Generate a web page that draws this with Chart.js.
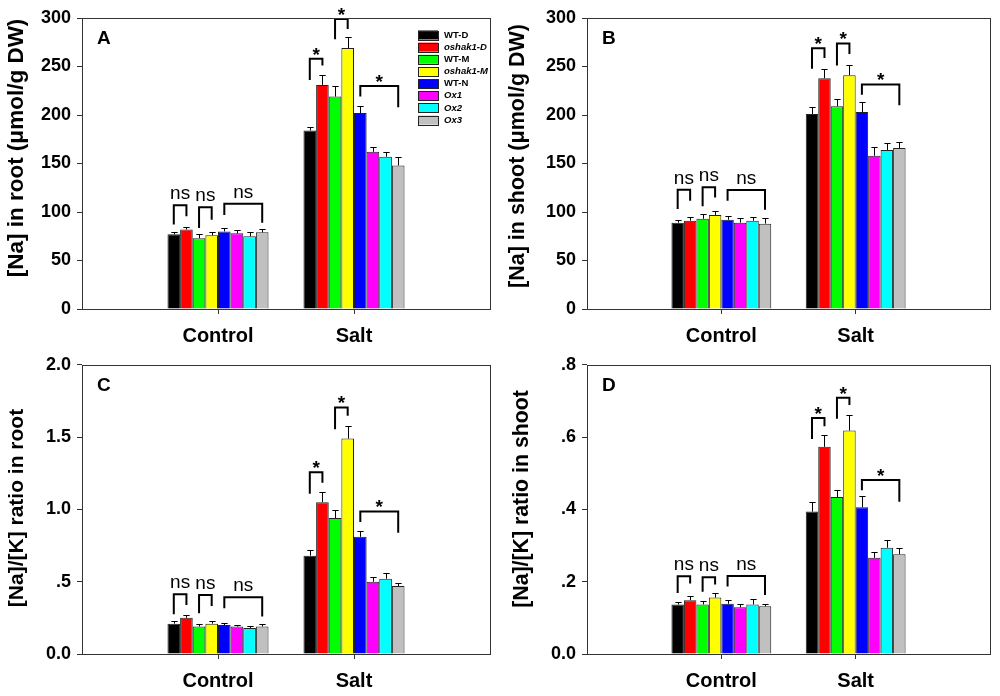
<!DOCTYPE html>
<html>
<head>
<meta charset="utf-8">
<script src="https://cdn.jsdelivr.net/npm/chart.js@4.4.0/dist/chart.umd.min.js"></script>
<style>
    body { margin: 0; background: #fff; }
    #wrap { position: relative; width: 1000px; height: 696px; }
    canvas { position: absolute; }
</style>
</head>
<body>
<div id="wrap">
    <canvas id="chartA" width="500" height="348" style="left:0;top:0"></canvas>
    <canvas id="chartB" width="500" height="348" style="left:500px;top:0"></canvas>
    <canvas id="chartC" width="500" height="348" style="left:0;top:348px"></canvas>
    <canvas id="chartD" width="500" height="348" style="left:500px;top:348px"></canvas>
</div>
<script>
// categories and genotypes
const categories = ['Control', 'Salt'];
const genotypes = ['WT-D', 'oshak1-D', 'WT-M', 'oshak1-M', 'WT-N', 'Ox1', 'Ox2', 'Ox3'];
const italicNames = [false, true, false, true, false, true, true, true];
const barColors = ['#000000', '#ff0000', '#00ff00', '#ffff00', '#0000ff', '#ff00ff', '#00ffff', '#c0c0c0'];

// A - [Na] in root
const rootNaControl = [77, 82, 73, 76, 80, 78, 75, 79];
const rootNaControlErr = [2, 3, 4, 3.5, 4, 3, 4, 3];
const rootNaSalt = [184, 231, 219, 269, 202, 162, 157, 148];
const rootNaSaltErr = [4, 10, 11, 11, 7, 4.5, 5, 8.5];
const naTicks = ['0', '50', '100', '150', '200', '250', '300'];
// brackets: [category, from bar, to bar, top, left leg end, right leg end, label]
const rootNaBrackets = [
    ['Control', 0, 1, 107, 87, 95.5, 'ns'],
    ['Control', 2, 3, 105, 83.5, 92, 'ns'],
    ['Control', 4, 7, 108.6, 97, 89, 'ns'],
    ['Salt', 0, 1, 258, 236, 251, '*'],
    ['Salt', 2, 3, 299, 278, 288.6, '*'],
    ['Salt', 4, 7, 230, 219, 208, '*']
];

// B - [Na] in shoot
const shootNaControl = [89, 91, 93, 97, 92, 89, 91, 88];
const shootNaControlErr = [3, 4, 4.5, 4.5, 4, 5, 4, 5.5];
const shootNaSalt = [201, 238, 209, 241, 203, 158, 164, 166];
const shootNaSaltErr = [7.5, 9, 8, 11, 10, 9, 7, 6.5];
const shootNaBrackets = [
    ['Control', 0, 1, 123, 103, 111.6, 'ns'],
    ['Control', 2, 3, 125.4, 105.8, 115, 'ns'],
    ['Control', 4, 7, 122.7, 111.6, 102.4, 'ns'],
    ['Salt', 0, 1, 268.7, 247.7, 258.7, '*'],
    ['Salt', 2, 3, 273.8, 251, 263, '*'],
    ['Salt', 4, 7, 231.5, 221, 210, '*']
];

// C - [Na]/[K] ratio in root
const rootRatioControl = [0.21, 0.25, 0.19, 0.21, 0.20, 0.19, 0.18, 0.19];
const rootRatioControlErr = [0.018, 0.018, 0.018, 0.016, 0.014, 0.014, 0.014, 0.02];
const rootRatioSalt = [0.68, 1.05, 0.94, 1.49, 0.81, 0.50, 0.52, 0.47];
const rootRatioSaltErr = [0.04, 0.07, 0.055, 0.087, 0.043, 0.034, 0.043, 0.022];
const rootRatioTicks = ['0.0', '.5', '1.0', '1.5', '2.0'];
const rootRatioBrackets = [
    ['Control', 0, 1, 0.413, 0.275, 0.339, 'ns'],
    ['Control', 2, 3, 0.408, 0.282, 0.332, 'ns'],
    ['Control', 4, 7, 0.392, 0.317, 0.259, 'ns'],
    ['Salt', 0, 1, 1.257, 1.108, 1.184, '*'],
    ['Salt', 2, 3, 1.705, 1.555, 1.647, '*'],
    ['Salt', 4, 7, 0.986, 0.913, 0.838, '*']
];

// D - [Na]/[K] ratio in shoot
const shootRatioControl = [0.137, 0.149, 0.137, 0.156, 0.139, 0.129, 0.137, 0.132];
const shootRatioControlErr = [0.008, 0.012, 0.009, 0.014, 0.009, 0.008, 0.014, 0.007];
const shootRatioSalt = [0.394, 0.573, 0.434, 0.618, 0.406, 0.266, 0.294, 0.276];
const shootRatioSaltErr = [0.027, 0.034, 0.021, 0.042, 0.032, 0.017, 0.02, 0.018];
const shootRatioTicks = ['0.0', '.2', '.4', '.6', '.8'];
const shootRatioBrackets = [
    ['Control', 0, 1, 0.215, 0.169, 0.195, 'ns'],
    ['Control', 2, 3, 0.212, 0.172, 0.192, 'ns'],
    ['Control', 4, 7, 0.216, 0.187, 0.163, 'ns'],
    ['Salt', 0, 1, 0.653, 0.595, 0.63, '*'],
    ['Salt', 2, 3, 0.709, 0.651, 0.689, '*'],
    ['Salt', 4, 7, 0.481, 0.453, 0.421, '*']
];

const FONT = "'Liberation Sans', Arial, sans-serif";
const AXIS = '#333333';

// error bars, brackets, box, letter, title, legend
const extrasPlugin = {
    id: 'extras',
    afterDatasetsDraw(chart, args, opts) {
        const ctx = chart.ctx;
        const y = chart.scales.y;
        const labels = chart.data.labels;

        // error bars (upper only)
        ctx.save();
        ctx.strokeStyle = '#000';
        ctx.lineWidth = 1;
        chart.data.datasets.forEach((ds, i) => {
            const meta = chart.getDatasetMeta(i);
            meta.data.forEach((bar, j) => {
                const v = ds.data[j];
                if (v === null || v === undefined) return;
                const yErr = y.getPixelForValue(v + ds.errors[j]);
                const cx = Math.round(bar.x) + 0.5;
                const cap = bar.width / 4;
                ctx.beginPath();
                ctx.moveTo(cx, bar.y);
                ctx.lineTo(cx, Math.round(yErr) + 0.5);
                ctx.moveTo(cx - cap, Math.round(yErr) + 0.5);
                ctx.lineTo(cx + cap, Math.round(yErr) + 0.5);
                ctx.stroke();
            });
        });
        ctx.restore();

        // significance brackets
        ctx.save();
        ctx.strokeStyle = '#000';
        ctx.lineWidth = 2;
        ctx.fillStyle = '#000';
        ctx.textAlign = 'center';
        opts.brackets.forEach(b => {
            const idx = labels.indexOf(b[0]);
            const x1 = chart.getDatasetMeta(b[1]).data[idx].x;
            const x2 = chart.getDatasetMeta(b[2]).data[idx].x;
            const yt = y.getPixelForValue(b[3]);
            ctx.beginPath();
            ctx.moveTo(x1, y.getPixelForValue(b[4]));
            ctx.lineTo(x1, yt);
            ctx.lineTo(x2, yt);
            ctx.lineTo(x2, y.getPixelForValue(b[5]));
            ctx.stroke();
            if (b[6] === 'ns') {
                ctx.font = '19px ' + FONT;
                ctx.textBaseline = 'alphabetic';
                ctx.fillText('ns', (x1 + x2) / 2, yt - 6);
            } else {
                ctx.font = 'bold 19px ' + FONT;
                ctx.textBaseline = 'alphabetic';
                ctx.fillText('*', (x1 + x2) / 2, yt + 2);
            }
        });
        ctx.restore();
    },
    afterDraw(chart, args, opts) {
        const ctx = chart.ctx;
        const a = chart.chartArea;
        ctx.save();
        // frame
        ctx.strokeStyle = AXIS;
        ctx.lineWidth = 1;
        ctx.strokeRect(Math.round(a.left) + 0.5, Math.round(a.top) + 0.5,
            Math.round(a.right - a.left), Math.round(a.bottom - a.top));

        // panel letter
        ctx.fillStyle = '#000';
        ctx.font = 'bold 19px ' + FONT;
        ctx.textAlign = 'left';
        ctx.textBaseline = 'alphabetic';
        ctx.fillText(opts.letter, a.left + 15, a.top + 26);

        // y title
        ctx.save();
        ctx.translate(opts.titleX, opts.titleY);
        ctx.rotate(-Math.PI / 2);
        ctx.font = 'bold ' + opts.titleSize + 'px ' + FONT;
        ctx.textAlign = 'center';
        ctx.textBaseline = 'middle';
        ctx.fillText(opts.title, 0, 0);
        ctx.restore();

        // legend
        if (opts.legend) {
            ctx.textBaseline = 'middle';
            genotypes.forEach((g, i) => {
                const ry = 35 + i * 12.15;
                ctx.fillStyle = barColors[i];
                ctx.fillRect(418, ry - 4.5, 20, 9);
                ctx.strokeStyle = '#222';
                ctx.strokeRect(418.5, Math.round(ry - 4.5) + 0.5, 20, 9);
                ctx.fillStyle = '#000';
                ctx.font = (italicNames[i] ? 'italic ' : '') + 'bold 9.5px ' + FONT;
                ctx.fillText(g, 444, ry);
            });
        }
        ctx.restore();
    }
};

function makePanel(id, p) {
    const ctx = document.getElementById(id).getContext('2d');
    const labels = [''].concat(categories, ['']);
    const datasets = genotypes.map((g, i) => ({
        label: g,
        data: [null, p.control[i], p.salt[i], null],
        errors: [null, p.controlErr[i], p.saltErr[i], null],
        backgroundColor: barColors[i],
        borderColor: '#222',
        borderWidth: 1
    }));

    new Chart(ctx, {
        type: 'bar',
        data: { labels: labels, datasets: datasets },
        plugins: [extrasPlugin],
        options: {
            responsive: false,
            animation: false,
            layout: { padding: { top: p.top, right: p.right, left: 0, bottom: 0 } },
            datasets: { bar: { categoryPercentage: 0.743, barPercentage: 1 } },
            plugins: {
                legend: { display: false },
                tooltip: { enabled: false },
                extras: {
                    brackets: p.brackets,
                    letter: p.letter,
                    title: p.title,
                    titleX: p.titleX,
                    titleY: p.titleY,
                    titleSize: p.titleSize,
                    legend: p.legend
                }
            },
            scales: {
                x: {
                    offset: false,
                    border: { display: false },
                    grid: {
                        offset: false,
                        drawOnChartArea: false,
                        tickLength: 5,
                        color: c => (c.index === 1 || c.index === 2) ? AXIS : 'rgba(0,0,0,0)'
                    },
                    ticks: {
                        autoSkip: false,
                        maxRotation: 0,
                        padding: 10,
                        color: '#000',
                        font: { family: FONT, size: 20, weight: 'bold' }
                    },
                    afterFit: s => { s.height = p.bottom; }
                },
                y: {
                    min: 0,
                    max: p.max,
                    border: { display: false },
                    grid: { drawOnChartArea: false, tickLength: 5, color: AXIS },
                    ticks: {
                        stepSize: p.step,
                        padding: 6,
                        color: '#000',
                        font: { family: FONT, size: 18, weight: 'bold' },
                        callback: (v, i) => p.ticks[i]
                    },
                    afterFit: s => { s.width = p.left; }
                }
            }
        }
    });
}

makePanel('chartA', {
    control: rootNaControl, controlErr: rootNaControlErr,
    salt: rootNaSalt, saltErr: rootNaSaltErr,
    brackets: rootNaBrackets, ticks: naTicks, max: 300, step: 50,
    letter: 'A', title: '[Na] in root (\u03bcmol/g DW)', titleX: 17, titleY: 148, titleSize: 22.5,
    legend: true, top: 18, right: 10, bottom: 39, left: 82
});
makePanel('chartB', {
    control: shootNaControl, controlErr: shootNaControlErr,
    salt: shootNaSalt, saltErr: shootNaSaltErr,
    brackets: shootNaBrackets, ticks: naTicks, max: 300, step: 50,
    letter: 'B', title: '[Na] in shoot (\u03bcmol/g DW)', titleX: 18, titleY: 156, titleSize: 21.5,
    legend: false, top: 18, right: 8, bottom: 39, left: 87
});
makePanel('chartC', {
    control: rootRatioControl, controlErr: rootRatioControlErr,
    salt: rootRatioSalt, saltErr: rootRatioSaltErr,
    brackets: rootRatioBrackets, ticks: rootRatioTicks, max: 2, step: 0.5,
    letter: 'C', title: '[Na]/[K] ratio in root', titleX: 17.5, titleY: 160, titleSize: 21,
    legend: false, top: 15, right: 10, bottom: 42, left: 82
});
makePanel('chartD', {
    control: shootRatioControl, controlErr: shootRatioControlErr,
    salt: shootRatioSalt, saltErr: shootRatioSaltErr,
    brackets: shootRatioBrackets, ticks: shootRatioTicks, max: 0.8, step: 0.2,
    letter: 'D', title: '[Na]/[K] ratio in shoot', titleX: 22, titleY: 151, titleSize: 21.3,
    legend: false, top: 15, right: 8, bottom: 42, left: 87
});
</script>
</body>
</html>
